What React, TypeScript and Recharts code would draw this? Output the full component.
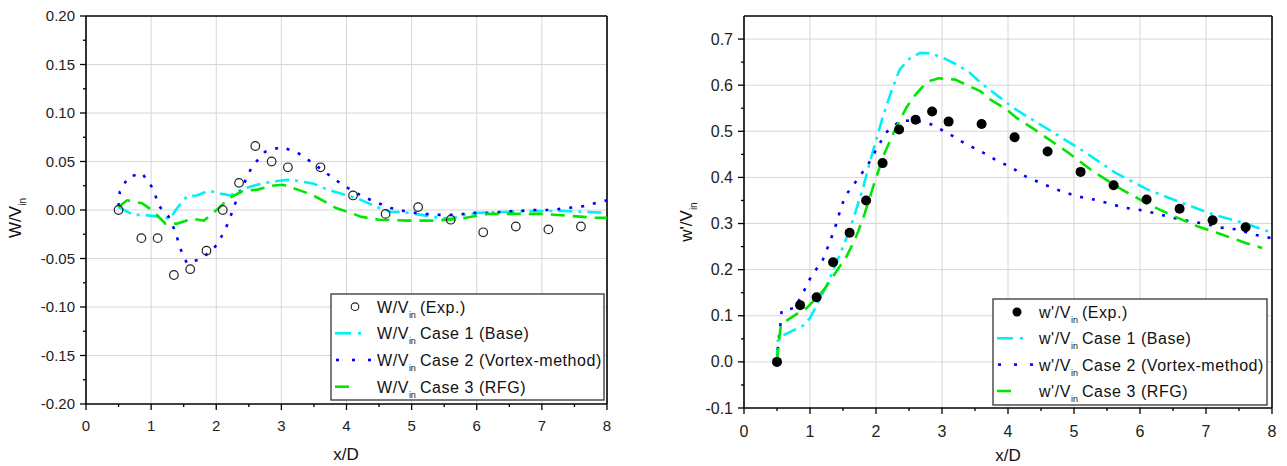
import React from 'react'
import { ComposedChart, Line, Scatter, XAxis, YAxis, ReferenceLine } from 'recharts'

const FONT = '"Liberation Sans", Arial, Helvetica, sans-serif'

// measurement stations (x/D)
const expX = [0.5, 0.85, 1.1, 1.35, 1.6, 1.85, 2.1, 2.35, 2.6, 2.85, 3.1, 3.6, 4.1, 4.6, 5.1, 5.6, 6.1, 6.6, 7.1, 7.6]
const expMean = [0.0, -0.029, -0.029, -0.067, -0.061, -0.042, 0.0, 0.028, 0.066, 0.05, 0.044, 0.044, 0.015, -0.004, 0.003, -0.01, -0.023, -0.017, -0.02, -0.017]
const expRms = [0.0, 0.123, 0.14, 0.216, 0.28, 0.35, 0.431, 0.504, 0.525, 0.543, 0.521, 0.516, 0.487, 0.456, 0.412, 0.383, 0.352, 0.332, 0.307, 0.292]

// W/Vin, Case 1 (Base)
const meanC1X = [0.5, 0.73, 0.88, 1.14, 1.29, 1.4, 1.55, 1.7, 1.89, 2.06, 2.22, 2.42, 2.63, 2.83, 3.09, 3.25, 3.5, 3.71, 3.91, 4.17, 4.43, 4.68, 4.84, 5.15, 5.3, 5.61, 5.81, 6.02, 6.43, 6.84, 7.35, 7.66, 8.0]
const meanC1Y = [0.003, -0.005, -0.005, -0.007, -0.009, 0.002, 0.014, 0.015, 0.02, 0.017, 0.015, 0.022, 0.026, 0.029, 0.031, 0.03, 0.027, 0.021, 0.017, 0.012, 0.004, -0.002, -0.002, -0.005, -0.007, -0.009, -0.005, -0.003, -0.002, -0.001, -0.001, -0.002, -0.003]
// W/Vin, Case 2 (Vortex-method)
const meanC2X = [0.5, 0.52, 0.65, 0.86, 1.04, 1.11, 1.27, 1.37, 1.45, 1.55, 1.78, 2.01, 2.14, 2.24, 2.32, 2.55, 2.75, 3.0, 3.25, 3.49, 3.73, 3.96, 4.22, 4.45, 4.68, 4.94, 5.2, 5.43, 5.69, 5.92, 6.17, 6.41, 6.66, 6.89, 7.15, 7.38, 7.64, 7.87, 8.0]
const meanC2Y = [0.004, 0.019, 0.034, 0.038, 0.021, 0.005, -0.007, -0.022, -0.04, -0.055, -0.05, -0.036, -0.02, -0.003, 0.012, 0.045, 0.06, 0.065, 0.059, 0.048, 0.036, 0.025, 0.015, 0.008, 0.002, -0.002, -0.004, -0.005, -0.005, -0.003, -0.003, -0.002, -0.001, 0.0, 0.0, 0.002, 0.004, 0.008, 0.01]
// W/Vin, Case 3 (RFG)
const meanC3X = [0.5, 0.63, 0.86, 1.01, 1.22, 1.4, 1.63, 1.81, 2.04, 2.19, 2.42, 2.63, 2.86, 3.02, 3.25, 3.46, 3.66, 3.84, 4.07, 4.22, 4.5, 4.94, 5.35, 5.76, 6.17, 6.58, 7.0, 7.41, 7.82, 8.0]
const meanC3Y = [0.003, 0.01, 0.007, 0.0, -0.014, -0.014, -0.009, -0.011, 0.002, 0.012, 0.02, 0.021, 0.025, 0.026, 0.021, 0.016, 0.009, 0.002, -0.003, -0.007, -0.01, -0.011, -0.011, -0.009, -0.004, -0.004, -0.004, -0.006, -0.008, -0.008]

// w'/Vin, Case 1 (Base)
const rmsC1X = [0.5, 0.51, 0.6, 0.9, 1.0, 1.1, 1.25, 1.4, 1.5, 1.6, 1.7, 1.8, 1.9, 2.0, 2.1, 2.24, 2.36, 2.52, 2.67, 2.82, 3.02, 3.22, 3.42, 3.63, 3.88, 4.08, 4.28, 4.6, 5.11, 5.63, 6.11, 6.63, 7.12, 7.6, 8.0]
const rmsC1Y = [0.0, 0.045, 0.058, 0.079, 0.095, 0.122, 0.165, 0.215, 0.25, 0.285, 0.33, 0.375, 0.43, 0.48, 0.53, 0.59, 0.634, 0.659, 0.67, 0.669, 0.659, 0.645, 0.627, 0.6, 0.573, 0.551, 0.533, 0.505, 0.46, 0.41, 0.374, 0.345, 0.319, 0.3, 0.28]
// w'/Vin, Case 2 (Vortex-method)
const rmsC2X = [0.5, 0.52, 0.55, 0.57, 0.77, 0.9, 1.02, 1.19, 1.29, 1.38, 1.45, 1.53, 1.71, 1.88, 2.01, 2.15, 2.36, 2.59, 2.84, 3.1, 3.33, 3.58, 3.8, 4.06, 4.28, 4.56, 4.81, 5.05, 5.3, 5.54, 5.78, 6.02, 6.27, 6.51, 6.75, 7.0, 7.24, 7.48, 7.73, 8.0]
const rmsC2Y = [0.0, 0.041, 0.079, 0.111, 0.117, 0.151, 0.186, 0.22, 0.256, 0.291, 0.325, 0.359, 0.394, 0.428, 0.462, 0.497, 0.522, 0.524, 0.515, 0.495, 0.475, 0.457, 0.439, 0.421, 0.401, 0.384, 0.37, 0.359, 0.352, 0.343, 0.334, 0.329, 0.321, 0.312, 0.305, 0.299, 0.291, 0.287, 0.276, 0.268]
// w'/Vin, Case 3 (RFG)
const rmsC3X = [0.5, 0.52, 0.56, 0.8, 0.95, 1.15, 1.25, 1.45, 1.53, 1.68, 1.73, 1.83, 1.96, 2.11, 2.29, 2.46, 2.56, 2.77, 2.95, 3.2, 3.35, 3.58, 3.73, 3.98, 4.13, 4.4, 4.92, 5.29, 5.72, 6.14, 6.51, 6.87, 7.24, 7.6, 7.85]
const rmsC3Y = [0.0, 0.034, 0.081, 0.104, 0.117, 0.146, 0.164, 0.207, 0.222, 0.265, 0.283, 0.322, 0.381, 0.446, 0.504, 0.551, 0.573, 0.607, 0.615, 0.612, 0.602, 0.587, 0.569, 0.547, 0.529, 0.504, 0.453, 0.413, 0.374, 0.341, 0.316, 0.294, 0.276, 0.258, 0.247]

// ticks (minor ones get no label)
const xTicks = [0, 0.5, 1, 1.5, 2, 2.5, 3, 3.5, 4, 4.5, 5, 5.5, 6, 6.5, 7, 7.5, 8]
const xGrid = [1, 2, 3, 4, 5, 6, 7]
const meanTicks = [-0.2, -0.175, -0.15, -0.125, -0.1, -0.075, -0.05, -0.025, 0, 0.025, 0.05, 0.075, 0.1, 0.125, 0.15, 0.175, 0.2]
const meanGrid = [-0.15, -0.1, -0.05, 0, 0.05, 0.1, 0.15]
const rmsTicks = [-0.1, -0.05, 0, 0.05, 0.1, 0.15, 0.2, 0.25, 0.3, 0.35, 0.4, 0.45, 0.5, 0.55, 0.6, 0.65, 0.7]
const rmsGrid = [0, 0.1, 0.2, 0.3, 0.4, 0.5, 0.6, 0.7]

type Pt = { x: number; y: number }
const zip = (xs: number[], ys: number[]): Pt[] => xs.map((x, i) => ({ x, y: ys[i] }))

const CYAN = '#00f0f8'
const BLUE = '#0000ff'
const GREEN = '#00e600'
const GRID = '#d6d6d6'

const isMajor = (v: number, step: number) => Math.abs(v / step - Math.round(v / step)) < 1e-6

function xTick(fontSize: number, labelDy: number) {
  return (p: any) => {
    const v = p.payload.value
    const major = isMajor(v, 1)
    return (
      <g>
        <line x1={p.x} x2={p.x} y1={p.y} y2={p.y + (major ? 6 : 3)} stroke="#000" strokeWidth={1.3} />
        {major && (
          <text x={p.x} y={p.y + labelDy} textAnchor="middle" fontSize={fontSize} fontFamily={FONT} fill="#222">
            {v}
          </text>
        )}
      </g>
    )
  }
}

function yTick(step: number, digits: number, fontSize: number) {
  return (p: any) => {
    const v = p.payload.value
    const major = isMajor(v, step)
    return (
      <g>
        <line x1={p.x - (major ? 6 : 3)} x2={p.x} y1={p.y} y2={p.y} stroke="#000" strokeWidth={1.3} />
        {major && (
          <text x={p.x - 11} y={p.y + fontSize * 0.35} textAnchor="end" fontSize={fontSize} fontFamily={FONT} fill="#222">
            {v.toFixed(digits)}
          </text>
        )}
      </g>
    )
  }
}

const openCircle = (p: any) => <circle cx={p.cx} cy={p.cy} r={4.3} fill="none" stroke="#222" strokeWidth={1.2} />
const filledCircle = (p: any) => <circle cx={p.cx} cy={p.cy} r={5} fill="#000" />

const axisLine = { stroke: '#000', strokeWidth: 1.6 }

function MeanChart() {
  return (
    <ComposedChart width={620} height={466} margin={{ top: 16, right: 13, bottom: 32, left: 0 }}>
      {xGrid.map((v) => <ReferenceLine key={'gx' + v} x={v} stroke={GRID} strokeWidth={1} />)}
      {meanGrid.map((v) => <ReferenceLine key={'gy' + v} y={v} stroke={GRID} strokeWidth={1} />)}
      <XAxis type="number" dataKey="x" domain={[0, 8]} ticks={xTicks} interval={0} height={30}
        tickSize={0} tickMargin={0} tickLine={false} axisLine={axisLine} tick={xTick(15, 27)} allowDataOverflow />
      <YAxis type="number" dataKey="y" domain={[-0.2, 0.2]} ticks={meanTicks} interval={0} width={86}
        tickSize={0} tickMargin={0} tickLine={false} axisLine={axisLine} tick={yTick(0.05, 2, 15)} allowDataOverflow />
      <ReferenceLine x={8} stroke="#000" strokeWidth={1.6} />
      <ReferenceLine y={0.2} stroke="#000" strokeWidth={1.6} />
      <Line data={zip(meanC1X, meanC1Y)} dataKey="y" type="linear" stroke={CYAN} strokeWidth={2.6}
        strokeDasharray="14 6 3 6" dot={false} isAnimationActive={false} />
      <Line data={zip(meanC2X, meanC2Y)} dataKey="y" type="linear" stroke={BLUE} strokeWidth={2.6}
        strokeDasharray="3 9" dot={false} isAnimationActive={false} />
      <Line data={zip(meanC3X, meanC3Y)} dataKey="y" type="linear" stroke={GREEN} strokeWidth={2.6}
        strokeDasharray="14 8" dot={false} isAnimationActive={false} />
      <Scatter data={zip(expX, expMean)} dataKey="y" shape={openCircle} isAnimationActive={false} />
    </ComposedChart>
  )
}

function RmsChart() {
  return (
    <ComposedChart width={627} height={466} margin={{ top: 16, right: 15, bottom: 28, left: 0 }}>
      {xGrid.map((v) => <ReferenceLine key={'gx' + v} x={v} stroke={GRID} strokeWidth={1} />)}
      {rmsGrid.map((v) => <ReferenceLine key={'gy' + v} y={v} stroke={GRID} strokeWidth={1} />)}
      <XAxis type="number" dataKey="x" domain={[0, 8]} ticks={xTicks} interval={0} height={30}
        tickSize={0} tickMargin={0} tickLine={false} axisLine={axisLine} tick={xTick(16, 29)} allowDataOverflow />
      <YAxis type="number" dataKey="y" domain={[-0.1, 0.75]} ticks={rmsTicks} interval={0} width={84}
        tickSize={0} tickMargin={0} tickLine={false} axisLine={axisLine} tick={yTick(0.1, 1, 16)} allowDataOverflow />
      <ReferenceLine x={8} stroke="#000" strokeWidth={1.6} />
      <ReferenceLine y={0.75} stroke="#000" strokeWidth={1.6} />
      <Line data={zip(rmsC1X, rmsC1Y)} dataKey="y" type="linear" stroke={CYAN} strokeWidth={2.6}
        strokeDasharray="14 6 3 6" dot={false} isAnimationActive={false} />
      <Line data={zip(rmsC2X, rmsC2Y)} dataKey="y" type="linear" stroke={BLUE} strokeWidth={2.6}
        strokeDasharray="3 9" dot={false} isAnimationActive={false} />
      <Line data={zip(rmsC3X, rmsC3Y)} dataKey="y" type="linear" stroke={GREEN} strokeWidth={2.6}
        strokeDasharray="14 8" dot={false} isAnimationActive={false} />
      <Scatter data={zip(expX, expRms)} dataKey="y" shape={filledCircle} isAnimationActive={false} />
    </ComposedChart>
  )
}

const legendLabels = ['(Exp.)', 'Case 1 (Base)', 'Case 2 (Vortex-method)', 'Case 3 (RFG)']

function Legend({ x, y, w, h, rows, prefix, filled }: { x: number; y: number; w: number; h: number; rows: number[]; prefix: string; filled: boolean }) {
  const sx = x + 4
  return (
    <g fontFamily={FONT}>
      <rect x={x} y={y} width={w} height={h} fill="#fff" stroke="#333" strokeWidth={1.3} />
      {rows.map((cy, i) => {
        let sym: React.ReactNode = null
        if (i === 0) sym = filled
          ? <circle cx={sx + 20} cy={cy} r={4.5} fill="#000" />
          : <circle cx={sx + 20} cy={cy} r={3.8} fill="none" stroke="#222" strokeWidth={1.1} />
        if (i === 1) sym = (
          <g stroke={CYAN} strokeWidth={2.6}>
            <line x1={sx} x2={sx + 16} y1={cy} y2={cy} />
            <line x1={sx + 23} x2={sx + 26} y1={cy} y2={cy} />
          </g>
        )
        if (i === 2) sym = (
          <g stroke={BLUE} strokeWidth={2.6}>
            {[1, 17, 33].map((d) => <line key={d} x1={sx + d} x2={sx + d + 3} y1={cy} y2={cy} />)}
          </g>
        )
        if (i === 3) sym = <line x1={sx} x2={sx + 14} y1={cy} y2={cy} stroke={GREEN} strokeWidth={2.6} />
        return (
          <g key={i}>
            {sym}
            <text x={x + 46} y={cy + 6} fontSize={16} letterSpacing={0.55} fill="#111">
              {prefix}
              <tspan dy={5} fontSize={9} letterSpacing={0}>in</tspan>
              <tspan dy={-5} dx={4}>{legendLabels[i]}</tspan>
            </text>
          </g>
        )
      })}
    </g>
  )
}

export default function App() {
  return (
    <div style={{ position: 'fixed', left: 0, top: 0, width: 1287, height: 466, background: '#fff', overflow: 'hidden' }}>
      <div style={{ position: 'absolute', left: 0, top: 0 }}>
        <MeanChart />
      </div>
      <div style={{ position: 'absolute', left: 660, top: 0 }}>
        <RmsChart />
      </div>
      <svg width={1287} height={466} style={{ position: 'absolute', left: 0, top: 0, pointerEvents: 'none' }}>
        <text transform="translate(21,218) rotate(-90)" textAnchor="middle" fontSize={17} fontFamily={FONT} fill="#111">
          W/V<tspan dy={5} fontSize={10}>in</tspan>
        </text>
        <text x={346} y={460} textAnchor="middle" fontSize={17} fontFamily={FONT} fill="#111">x/D</text>
        <text transform="translate(692,222) rotate(-90)" textAnchor="middle" fontSize={17} fontFamily={FONT} fill="#111">
          w'/V<tspan dy={5} fontSize={10}>in</tspan>
        </text>
        <text x={1008} y={461} textAnchor="middle" fontSize={17} fontFamily={FONT} fill="#111">x/D</text>
        <Legend x={331} y={294} w={273} h={106} rows={[306.7, 333.3, 360, 386.7]} prefix="W/V" filled={false} />
        <Legend x={993} y={299} w={274} h={106} rows={[312, 338.3, 364.6, 391]} prefix="w'/V" filled={true} />
      </svg>
    </div>
  )
}
